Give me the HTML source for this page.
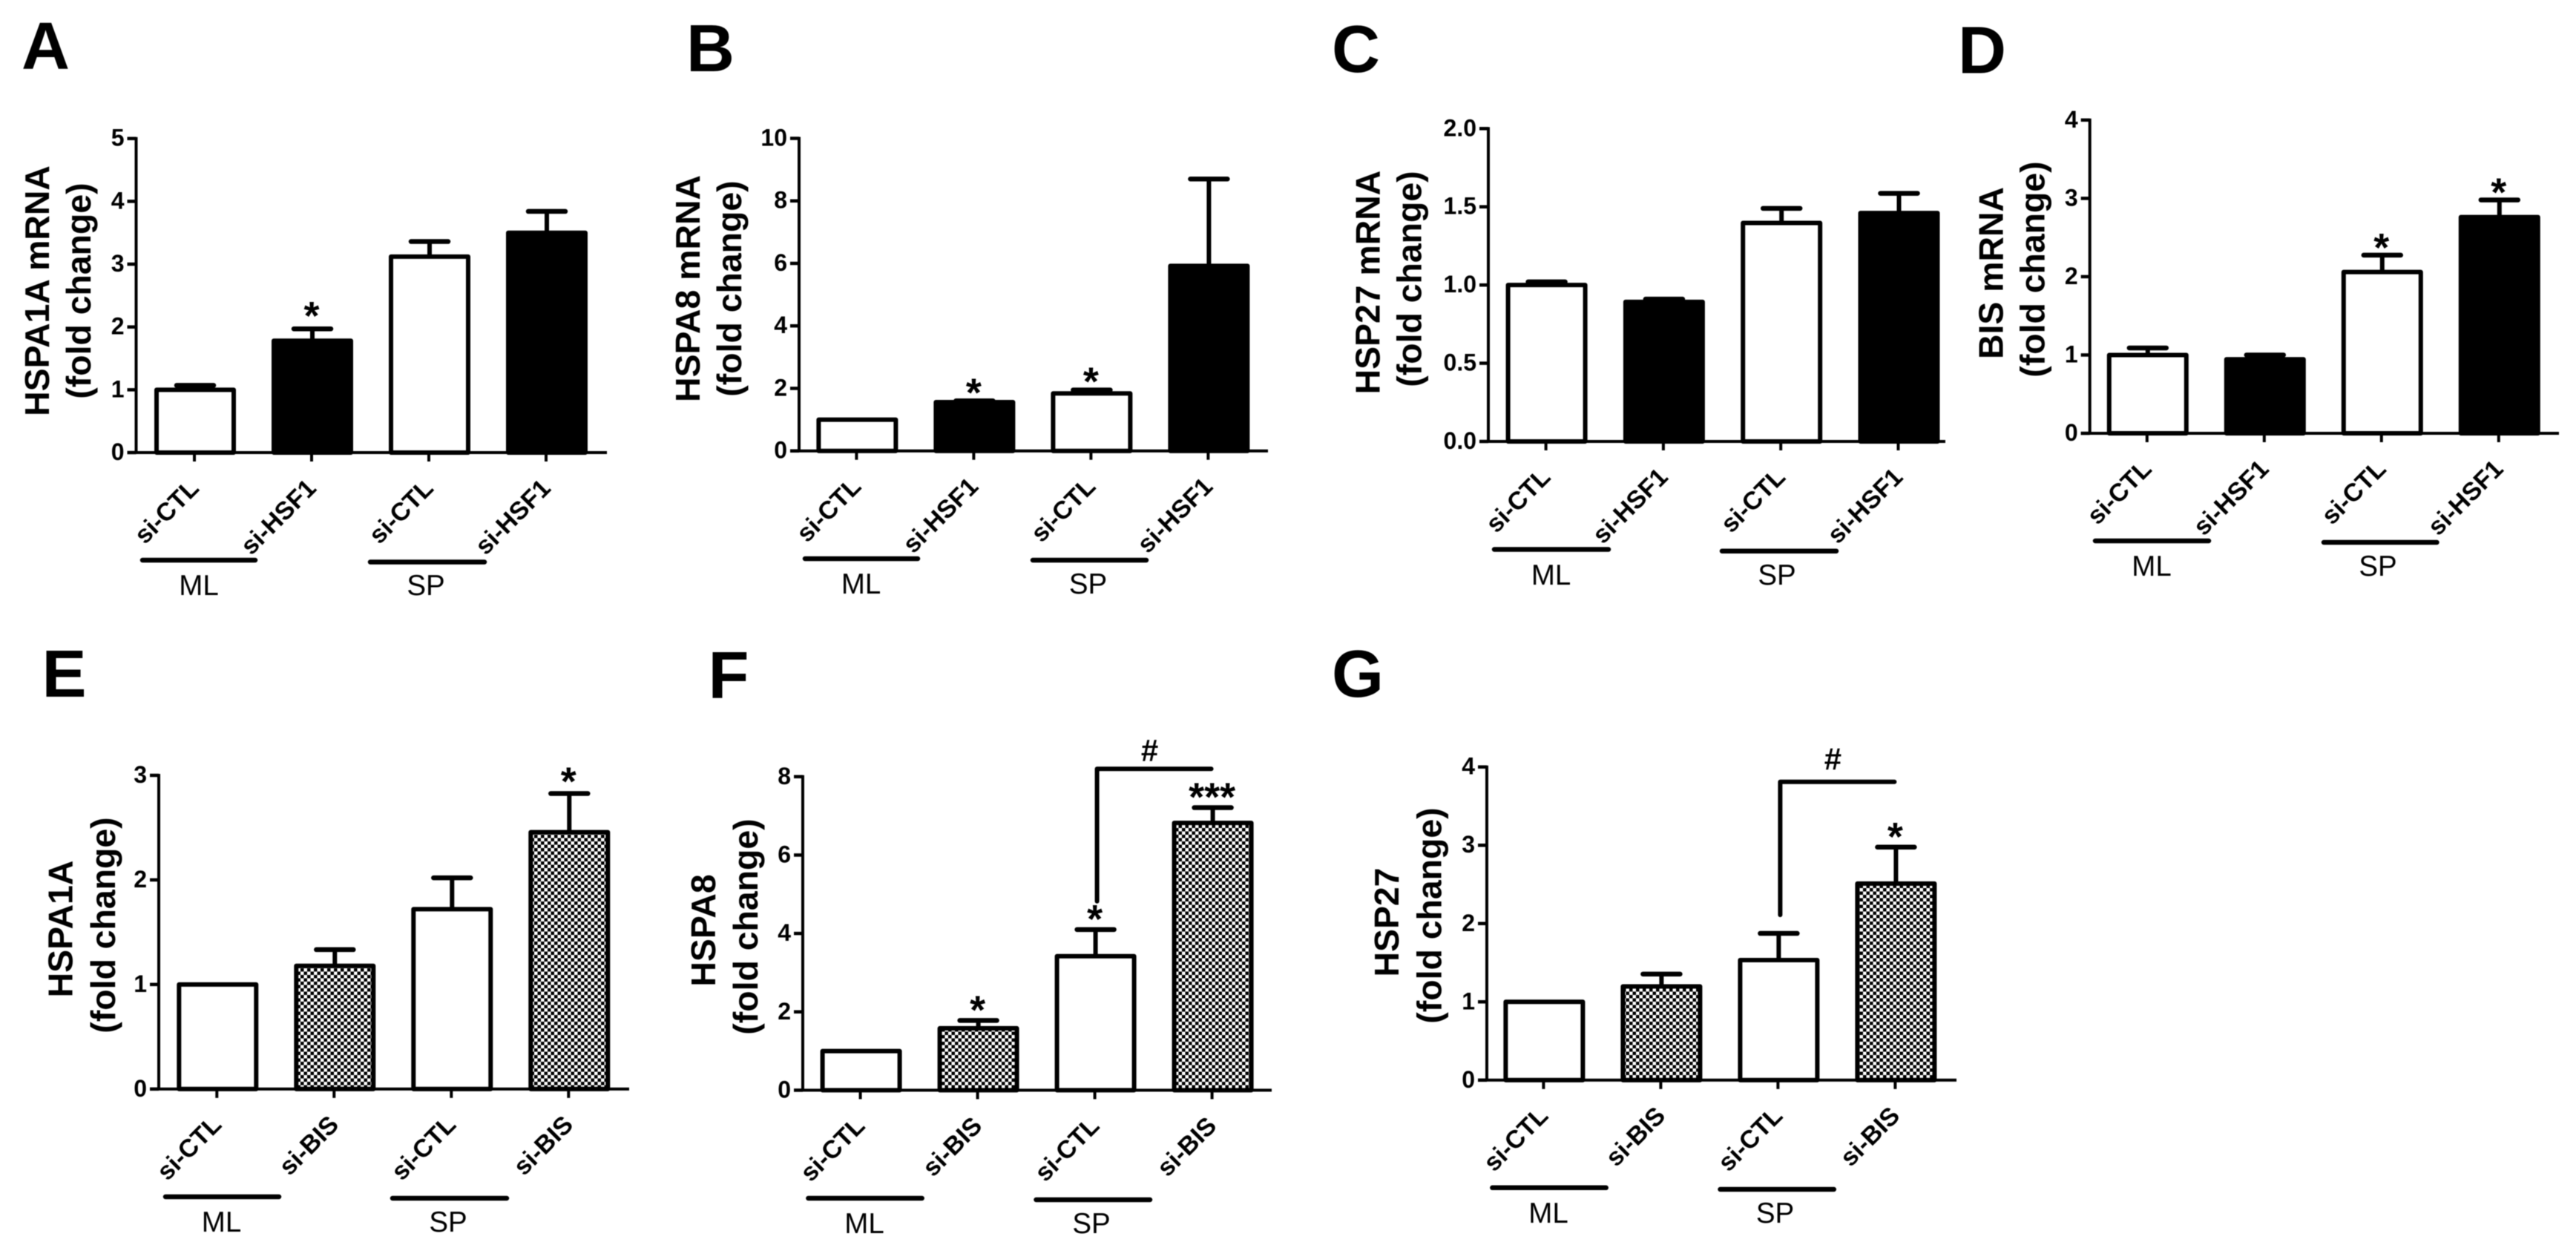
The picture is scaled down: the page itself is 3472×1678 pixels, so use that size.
<!DOCTYPE html>
<html>
<head>
<meta charset="utf-8">
<title>Fold change bar charts</title>
<style>
html,body{margin:0;padding:0;background:#fff;}
svg{display:block;filter:blur(0.6px);}
text{font-family:"Liberation Sans",sans-serif;fill:#000;}
</style>
</head>
<body>
<svg id="figure" xmlns="http://www.w3.org/2000/svg" width="3472" height="1678" viewBox="0 0 3472 1678">
<defs>
<pattern id="checker" patternUnits="userSpaceOnUse" width="9" height="9">
<rect width="9" height="9" fill="#fff"/>
<rect width="4.5" height="4.5" fill="#000"/>
<rect x="4.5" y="4.5" width="4.5" height="4.5" fill="#000"/>
</pattern>
</defs>
</svg>
<script>
const catsHSF = ['si-CTL','si-HSF1','si-CTL','si-HSF1'];
const catsBIS = ['si-CTL','si-BIS','si-CTL','si-BIS'];

const ticksA = ['0','1','2','3','4','5'];
const valuesA = [1.0,1.78,3.12,3.5];
const errorsA = [1.07,1.97,3.36,3.84];
const sigA = ['','*','',''];

const ticksB = ['0','2','4','6','8','10'];
const valuesB = [1.0,1.56,1.84,5.92];
const errorsB = [1.0,1.6,1.95,8.7];
const sigB = ['','*','*',''];

const ticksC = ['0.0','0.5','1.0','1.5','2.0'];
const valuesC = [1.0,0.892,1.397,1.46];
const errorsC = [1.02,0.91,1.49,1.586];
const sigC = ['','','',''];

const ticksD = ['0','1','2','3','4'];
const valuesD = [1.0,0.945,2.06,2.76];
const errorsD = [1.09,1.0,2.275,2.98];
const sigD = ['','','*','*'];

const ticksE = ['0','1','2','3'];
const valuesE = [1.0,1.178,1.72,2.456];
const errorsE = [1.0,1.333,2.02,2.826];
const sigE = ['','','','*'];

const ticksF = ['0','2','4','6','8'];
const valuesF = [1.0,1.58,3.42,6.82];
const errorsF = [1.0,1.78,4.1,7.21];
const sigF = ['','*','*','***'];

const ticksG = ['0','1','2','3','4'];
const valuesG = [1.0,1.197,1.533,2.51];
const errorsG = [1.0,1.355,1.874,2.976];
const sigG = ['','','','*'];

const bracketF = {from:2,to:3,low:4.82,high:8.2,lift:10};
const bracketG = {from:2,to:3,low:2.11,high:3.81,lift:16};

const panels = [
 {id:'a',letter:'A',lx:29,ly:93,ax:183.5,top:186.7,base:610,first:263,step:158,end:818,t1:'HSPA1A mRNA',t2:'(fold change)',t1x:66,t2x:122,t1y:392,t2y:392,ml:[192,344,755],sp:[499,653,757.5],mlc:268,spc:574,gy:802,starLift:26,ticks:ticksA,values:valuesA,errors:errorsA,sig:sigA,cats:catsHSF,fill:'#000'},
 {id:'b',letter:'B',lx:925,ly:96,ax:1077,top:186.5,base:607.7,first:1155.4,step:158,end:1709,t1:'HSPA8 mRNA',t2:'(fold change)',t1x:943,t2x:999,t1y:389,t2y:389,ml:[1085,1237,753],sp:[1392,1545,755],mlc:1160.6,spc:1466.5,gy:800,starLift:20,ticks:ticksB,values:valuesB,errors:errorsB,sig:sigB,cats:catsHSF,fill:'#000'},
 {id:'c',letter:'C',lx:1795,ly:97,ax:2006,top:173.3,base:595,first:2084.6,step:158.3,end:2622,t1:'HSP27 mRNA',t2:'(fold change)',t1x:1859.7,t2x:1915.5,t1y:380.6,t2y:376,ml:[2014,2168,740.5],sp:[2321,2475,742.7],mlc:2090.6,spc:2395,gy:788,starLift:20,ticks:ticksC,values:valuesC,errors:errorsC,sig:sigC,cats:catsHSF,fill:'#000'},
 {id:'d',letter:'D',lx:2639,ly:98.7,ax:2816.7,top:161.8,base:584,first:2894.8,step:158,end:3449,t1:'BIS mRNA',t2:'(fold change)',t1x:2699.7,t2x:2755.5,t1y:368,t2y:363,ml:[2824,2977,729],sp:[3132,3284.5,731],mlc:2900,spc:3205,gy:776,starLift:19,ticks:ticksD,values:valuesD,errors:errorsD,sig:sigD,cats:catsHSF,fill:'#000'},
 {id:'e',letter:'E',lx:56.5,ly:939,ax:214,top:1045,base:1467.8,first:293.3,step:158,end:848,t1:'HSPA1A',t2:'(fold change)',t1x:97.6,t2x:155,t1y:1252,t2y:1247,ml:[223,376,1613],sp:[529,683,1615],mlc:298.5,spc:604,gy:1660,starLift:25,ticks:ticksE,values:valuesE,errors:errorsE,sig:sigE,cats:catsBIS,fill:'url(#checker)'},
 {id:'f',letter:'F',lx:954.5,ly:941,ax:1082,top:1046.8,base:1469.4,first:1160.6,step:158,end:1714,t1:'HSPA8',t2:'(fold change)',t1x:964,t2x:1021,t1y:1254,t2y:1249,ml:[1089.4,1242.7,1615],sp:[1396.5,1550,1617],mlc:1165,spc:1471,gy:1662,starLift:23,ticks:ticksF,values:valuesF,errors:errorsF,sig:sigF,cats:catsBIS,fill:'url(#checker)',bracket:bracketF},
 {id:'g',letter:'G',lx:1795,ly:939,ax:2004,top:1033.7,base:1455.8,first:2081.4,step:158,end:2637,t1:'HSP27',t2:'(fold change)',t1x:1885,t2x:1942.5,t1y:1243,t2y:1234,ml:[2011.4,2164.7,1600.8],sp:[2318.5,2471.8,1603],mlc:2087,spc:2392.5,gy:1648,starLift:23,ticks:ticksG,values:valuesG,errors:errorsG,sig:sigG,cats:catsBIS,fill:'url(#checker)',bracket:bracketG}
];

const NS = 'http://www.w3.org/2000/svg';
const fig = document.getElementById('figure');

function make(parent, tag, attrs, txt) {
  const el = document.createElementNS(NS, tag);
  for (const k in attrs) el.setAttribute(k, attrs[k]);
  if (txt !== undefined) el.textContent = txt;
  parent.appendChild(el);
  return el;
}

function drawPanel(p) {
  const tickMax = parseFloat(p.ticks[p.ticks.length - 1]);
  const yScale = v => p.base - (v / tickMax) * (p.base - p.top);
  const xScale = i => p.first + i * p.step;

  const g = make(fig, 'g', {});
  
  

  const letter = make(g, 'text', {x:p.lx, y:p.ly, 'font-size':90, 'font-weight':'bold'}, p.letter);
  
  

  const t1 = make(g, 'text', {transform:'translate(' + p.t1x + ',' + p.t1y + ') rotate(-90)', 'text-anchor':'middle', 'font-size':46.4, 'font-weight':'bold'}, p.t1);
  
  

  const t2 = make(g, 'text', {transform:'translate(' + p.t2x + ',' + p.t2y + ') rotate(-90)', 'text-anchor':'middle', 'font-size':46.4, 'font-weight':'bold'}, p.t2);
  
  

  p.values.forEach((v, i) => {
    const cx = xScale(i);
    const yv = yScale(v);
    const ye = yScale(p.errors[i]);
    if (p.errors[i] > v) {
      const stem = make(g, 'line', {x1:cx, x2:cx, y1:yv, y2:ye, stroke:'#000', 'stroke-width':6});
      
      
      const cap = make(g, 'line', {x1:cx - 25, x2:cx + 25, y1:ye, y2:ye, stroke:'#000', 'stroke-width':6.5, 'stroke-linecap':'round'});
      
      
    }
    const fill = i % 2 ? p.fill : '#fff';
    const bar = make(g, 'rect', {x:cx - 52, y:yv, width:104, height:p.base - yv, fill:fill, stroke:'#000', 'stroke-width':6, 'stroke-linejoin':'round'});
    
    

    if (p.sig[i]) {
      const star = make(g, 'text', {x:cx - 1, y:ye - p.starLift + 27, 'text-anchor':'middle', 'font-size':54, 'font-weight':'bold'}, p.sig[i]);
      
      
    }

    const tick = make(g, 'line', {x1:cx - 1, x2:cx - 1, y1:p.base, y2:p.base + 12, stroke:'#000', 'stroke-width':4});
    
    

    const lab = make(g, 'text', {transform:'translate(' + (cx + 7) + ',' + (p.base + 50) + ') rotate(-45)', 'text-anchor':'end', 'font-size':34, 'font-weight':'bold'}, p.cats[i]);
    
    
  });

  const yAxis = make(g, 'line', {x1:p.ax, x2:p.ax, y1:p.top - 2, y2:p.base, stroke:'#000', 'stroke-width':4});
  
  

  const xAxis = make(g, 'line', {x1:p.ax - 12, x2:p.end, y1:p.base, y2:p.base, stroke:'#000', 'stroke-width':4});
  
  

  p.ticks.forEach(t => {
    const y = yScale(parseFloat(t));
    const tk = make(g, 'line', {x1:p.ax - 12, x2:p.ax, y1:y, y2:y, stroke:'#000', 'stroke-width':4.5});
    
    
    const lb = make(g, 'text', {x:p.ax - 16, y:y + 10, 'text-anchor':'end', 'font-size':32, 'font-weight':'bold'}, t);
    
    
  });

  const mlLine = make(g, 'line', {x1:p.ml[0], x2:p.ml[1], y1:p.ml[2], y2:p.ml[2], stroke:'#000', 'stroke-width':6.5, 'stroke-linecap':'round'});
  
  

  const spLine = make(g, 'line', {x1:p.sp[0], x2:p.sp[1], y1:p.sp[2], y2:p.sp[2], stroke:'#000', 'stroke-width':6.5, 'stroke-linecap':'round'});
  
  

  const mlText = make(g, 'text', {x:p.mlc, y:p.gy, 'text-anchor':'middle', 'font-size':38.5}, 'ML');
  
  

  const spText = make(g, 'text', {x:p.spc, y:p.gy, 'text-anchor':'middle', 'font-size':38.5}, 'SP');
  
  

  if (p.bracket) {
    const b = p.bracket;
    const x1 = xScale(b.from) + 2;
    const x2 = xScale(b.to) - 2;
    const yLow = yScale(b.low);
    const yHigh = yScale(b.high);
    const br = make(g, 'polyline', {points:x1 + ',' + yLow + ' ' + x1 + ',' + yHigh + ' ' + x2 + ',' + yHigh, fill:'none', stroke:'#000', 'stroke-width':6, 'stroke-linecap':'round', 'stroke-linejoin':'round'});
    
    
    const hash = make(g, 'text', {x:(x1 + x2) / 2 - 6, y:yHigh - b.lift, 'text-anchor':'middle', 'font-size':42, 'font-weight':'bold'}, '#');
    
    
  }
}

panels.forEach(drawPanel);
</script>
</body>
</html>
